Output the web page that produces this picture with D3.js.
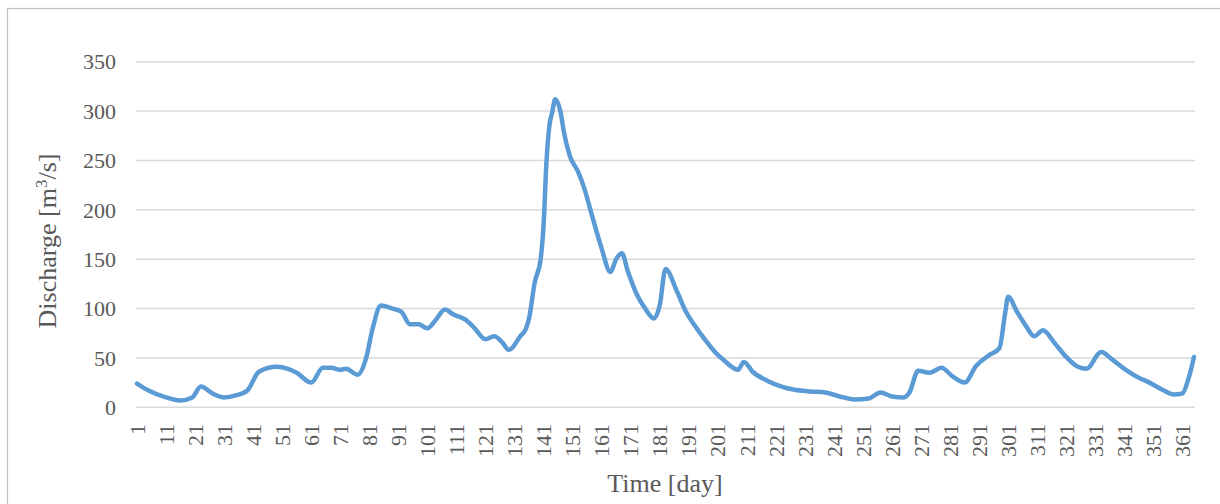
<!DOCTYPE html>
<html>
<head>
<meta charset="utf-8">
<script src="https://cdn.jsdelivr.net/npm/d3@7.9.0/dist/d3.min.js"></script>
<style>
  html, body { margin: 0; padding: 0; background: #fff; }
  svg { display: block; }
  text { font-family: "Liberation Serif", "Times New Roman", serif; fill: #595959; }
</style>
</head>
<body>
<svg id="chart" width="1220" height="504"></svg>
<script>
// days (x) and discharge values in m3/s (y)
const days = [1, 5, 10, 16, 20, 23, 27, 31, 35, 39, 43, 49, 53, 56, 61, 65, 68, 71, 73, 77,
  80, 82, 85, 89, 92, 95, 98, 101, 104, 107, 110, 114, 117, 121, 124, 127, 129, 133, 135, 136,
  138, 140, 141, 142, 143, 144, 145, 147, 148, 150, 153, 155, 158, 161, 164, 166, 168, 170, 173, 176,
  179, 181, 183, 187, 190, 193, 197, 201, 203, 208, 210, 213, 218, 223, 227, 233, 238, 243, 248, 253,
  257, 261, 265, 267, 270, 274, 278, 282, 286, 290, 294, 298, 300, 301, 304, 307, 310, 313, 317, 321,
  325, 328, 333, 337, 341, 346, 349, 354, 358, 361, 363, 365];
const discharge = [24, 17, 11, 7, 10, 21, 14, 10, 12, 17, 36, 41, 39, 35, 25, 40, 40, 38, 39, 33,
  51, 78, 103, 100, 97, 84, 84, 80, 89, 99, 94, 89, 81, 69, 72, 65, 58, 72, 80, 90,
  127, 150, 184, 248, 285, 299, 312, 297, 279, 255, 238, 222, 191, 161, 137, 150, 156, 138, 115, 100,
  90, 103, 140, 117, 97, 83, 67, 53, 48, 38, 46, 36, 27, 21, 18, 16, 15, 11, 8, 9,
  15, 11, 10, 15, 37, 35, 40, 31, 25, 42, 52, 60, 96, 112, 97, 83, 72, 78, 65, 51,
  41, 39, 56, 48, 39, 30, 26, 18, 13, 14, 28, 51];
const yTicks = [0, 50, 100, 150, 200, 250, 300, 350];
const xTicks = d3.range(1, 366, 10); // 1, 11, ..., 361

const data = days.map((d, i) => ({ day: d, q: discharge[i] }));

const svg = d3.select('#chart');

// outer chart border
svg.append('rect')
  .attr('x', 7.5).attr('y', 8.5)
  .attr('width', 1400).attr('height', 700)
  .attr('fill', 'none')
  .attr('stroke', '#bfbfbf')
  .attr('stroke-width', 1.2);

const x = d3.scaleLinear().domain([1, 365]).range([137, 1194]);
const y = d3.scaleLinear().domain([0, 350]).range([407.3, 61.7]);

// horizontal gridlines
svg.append('g')
  .selectAll('line')
  .data(yTicks)
  .join('line')
    .attr('x1', 136).attr('x2', 1195)
    .attr('y1', (d) => y(d)).attr('y2', (d) => y(d))
    .attr('stroke', '#d9d9d9')
    .attr('stroke-width', 1.4);

// y tick labels
svg.append('g')
  .selectAll('text')
  .data(yTicks)
  .join('text')
    .attr('x', 116)
    .attr('y', (d) => y(d))
    .attr('dy', '0.35em')
    .attr('text-anchor', 'end')
    .style('font-size', '22px')
    .text((d) => d);

// x tick labels, rotated
svg.append('g')
  .selectAll('text')
  .data(xTicks)
  .join('text')
    .attr('transform', (d) => `translate(${x(d)},424) rotate(-90)`)
    .attr('dy', '0.35em')
    .attr('text-anchor', 'end')
    .style('font-size', '22px')
    .text((d) => d);

// discharge line
const line = d3.line()
  .x((d) => x(d.day))
  .y((d) => y(d.q))
  .curve(d3.curveMonotoneX);

svg.append('path')
  .datum(data)
  .attr('d', line)
  .attr('fill', 'none')
  .attr('stroke', '#5b9bd5')
  .attr('stroke-width', 4.5)
  .attr('stroke-linejoin', 'round')
  .attr('stroke-linecap', 'round');

// axis titles
const yTitle = svg.append('text')
  .attr('transform', 'translate(47,241) rotate(-90)')
  .attr('dy', '0.35em')
  .attr('text-anchor', 'middle')
  .style('font-size', '26px');
yTitle.append('tspan').text('Discharge [m');
yTitle.append('tspan').attr('baseline-shift', 'super').style('font-size', '17px').text('3');
yTitle.append('tspan').text('/s]');

svg.append('text')
  .attr('x', 665).attr('y', 483)
  .attr('dy', '0.35em')
  .attr('text-anchor', 'middle')
  .style('font-size', '26px')
  .text('Time [day]');
</script>
</body>
</html>
